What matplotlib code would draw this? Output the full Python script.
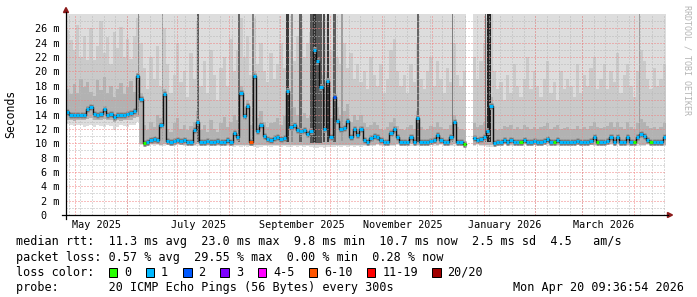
import datetime as dt
import numpy as np
import matplotlib
matplotlib.use("Agg")
import matplotlib.pyplot as plt
from matplotlib.lines import Line2D
from matplotlib.patches import Polygon, Rectangle

W, H = 697, 297
plt.rcParams['font.family'] = ['DejaVu Sans Mono']
nan = np.nan

# time axis: last 360 days, one value every 2 days
end_time = dt.datetime(2026, 4, 20, 9, 36, 54)
span_days = 360
bin_days = 2

# median rtt (ms), one value per 2-day bin
median_ms = [
    14.3, 14.0, 13.9, 13.9, 14.0, 14.0, 14.8, 15.1, 14.1, 14.0, 14.1, 14.8, 14.0, 14.1, 13.6, 14.0, 13.9, 14.0, 14.1, 14.2,
    14.5, 19.4, 16.2, 10.0, 10.1, 10.5, 10.6, 10.4, 12.5, 16.8, 10.3, 10.2, 10.3, 10.4, 10.3, 10.4, 10.2, 10.2, 11.8, 12.9,
    10.2, 10.2, 10.3, 10.2, 10.2, 10.3, 10.2, 10.2, 10.4, 10.2, 11.4, 10.8, 17.0, 13.8, 15.2, 10.2, 19.4, 11.7, 12.6, 11.0,
    10.6, 10.4, 10.7, 10.8, 10.6, 10.7, 17.3, 12.3, 12.5, 11.8, 11.7, 11.9, 11.3, 11.7, 23.0, 21.4, 17.9, 12.0, 18.7, 10.9,
    16.5, 13.1, 12.0, 12.1, 13.1, 10.8, 12.0, 11.2, 12.0, 10.4, 10.2, 10.7, 11.0, 10.9, 10.4, 10.2, 10.2, 11.4, 12.0, 10.8,
    10.2, 10.1, 10.2, 10.9, 10.2, 13.5, 10.2, 10.2, 10.2, 10.3, 10.4, 11.2, 10.4, 10.2, 10.2, 10.9, 13.0, 10.2, 10.2, 9.9,
    nan, nan, 10.7, 10.5, 10.6, 10.9, 11.7, 15.2, 10.0, 10.1, 10.2, 10.4, 10.2, 10.5, 10.2, 10.2, 10.2, 10.5, 10.2, 10.2,
    10.3, 10.2, 10.2, 10.3, 10.6, 10.2, 10.2, 10.4, 10.2, 10.2, 10.2, 10.2, 10.2, 10.3, 10.2, 10.2, 10.2, 10.3, 10.8, 10.2,
    10.2, 10.2, 10.3, 10.9, 10.2, 10.9, 10.2, 10.2, 10.9, 10.2, 10.2, 10.9, 11.3, 11.0, 10.4, 10.2, 10.2, 10.2, 10.2, 10.9,
]

# smoke: lower edge of all pings
smoke_low = [
    12.7, 12.5, 12.4, 12.6, 12.5, 12.3, 12.4, 12.6, 12.2, 12.5, 12.4, 12.3, 12.5, 12.4, 11.8, 12.3, 12.5, 12.4, 12.2, 12.5,
    12.6, 12.9, 9.8, 9.7, 9.6, 9.7, 9.6, 9.7, 9.6, 9.6, 9.7, 9.7, 9.6, 9.7, 9.7, 9.6, 9.7, 9.7, 9.6, 9.6,
    9.7, 9.7, 9.6, 9.7, 9.7, 9.6, 9.7, 9.7, 9.6, 9.6, 9.5, 9.6, 9.5, 9.6, 9.5, 9.6, 9.5, 9.4, 9.5, 9.6,
    9.6, 9.5, 9.6, 9.6, 9.5, 9.6, 9.5, 9.5, 9.6, 9.5, 9.6, 9.5, 9.6, 9.5, 9.4, 9.4, 9.5, 9.4, 9.5, 9.5,
    9.5, 9.6, 9.5, 9.6, 9.5, 9.6, 9.5, 9.6, 9.5, 9.6, 9.7, 9.6, 9.6, 9.7, 9.6, 9.7, 9.6, 9.6, 9.6, 9.7,
    9.7, 9.6, 9.7, 9.6, 9.7, 9.6, 9.7, 9.7, 9.6, 9.7, 9.6, 9.6, 9.7, 9.7, 9.6, 9.6, 9.6, 9.7, 9.6, 9.5,
    nan, nan, 9.6, 9.7, 9.6, 9.6, 9.5, 9.5, 9.7, 9.7, 9.6, 9.7, 9.7, 9.6, 9.7, 9.7, 9.6, 9.7, 9.7, 9.6,
    9.7, 9.7, 9.6, 9.7, 9.6, 9.7, 9.7, 9.6, 9.7, 9.7, 9.7, 9.6, 9.7, 9.7, 9.6, 9.7, 9.7, 9.7, 9.6, 9.7,
    9.7, 9.6, 9.7, 9.7, 9.6, 9.7, 9.6, 9.7, 9.6, 9.7, 9.7, 9.6, 9.6, 9.6, 9.7, 9.7, 9.6, 9.7, 9.7, 9.6,
]

# smoke: lower edge of the inner pings
smoke_low_inner = [
    13.3, 13.2, 13.1, 13.3, 13.2, 13.2, 13.4, 13.5, 13.2, 13.2, 13.3, 13.4, 13.2, 13.3, 12.9, 13.2, 13.1, 13.2, 13.3, 13.3,
    13.5, 13.6, 9.9, 9.9, 9.8, 9.9, 9.9, 9.9, 9.8, 9.9, 9.9, 9.9, 9.8, 9.9, 9.9, 9.8, 9.9, 9.9, 9.8, 9.9,
    9.9, 9.9, 9.8, 9.9, 9.9, 9.8, 9.9, 9.9, 9.8, 9.8, 9.8, 9.8, 9.7, 9.8, 9.8, 9.8, 9.7, 9.7, 9.8, 9.8,
    9.8, 9.8, 9.8, 9.8, 9.8, 9.8, 9.7, 9.8, 9.8, 9.8, 9.8, 9.8, 9.8, 9.7, 9.7, 9.7, 9.8, 9.7, 9.7, 9.8,
    9.8, 9.8, 9.8, 9.8, 9.8, 9.8, 9.8, 9.8, 9.8, 9.8, 9.9, 9.8, 9.8, 9.9, 9.8, 9.9, 9.9, 9.8, 9.8, 9.9,
    9.9, 9.8, 9.9, 9.9, 9.9, 9.8, 9.9, 9.9, 9.8, 9.9, 9.9, 9.8, 9.9, 9.9, 9.9, 9.8, 9.9, 9.9, 9.8, 9.7,
    nan, nan, 9.8, 9.9, 9.8, 9.8, 9.8, 9.8, 9.8, 9.9, 9.9, 9.9, 9.9, 9.8, 9.9, 9.9, 9.9, 9.9, 9.9, 9.8,
    9.9, 9.9, 9.8, 9.9, 9.9, 9.9, 9.9, 9.8, 9.9, 9.9, 9.9, 9.8, 9.9, 9.9, 9.8, 9.9, 9.9, 9.9, 9.8, 9.9,
    9.9, 9.8, 9.9, 9.9, 9.8, 9.9, 9.8, 9.9, 9.8, 9.9, 9.9, 9.9, 9.8, 9.8, 9.9, 9.9, 9.8, 9.9, 9.9, 9.8,
]

# smoke: upper edge of the middle pings
smoke_high_mid = [
    17.5, 16.8, 18.2, 17.0, 19.0, 17.8, 18.5, 17.2, 16.6, 18.8, 17.4, 19.2, 17.0, 18.0, 16.5, 17.6, 18.4, 16.9, 17.8, 18.6,
    17.2, 19.8, 17.0, 12.5, 11.8, 13.0, 12.2, 14.0, 13.5, 17.5, 12.0, 11.6, 12.8, 13.5, 12.0, 12.6, 11.8, 12.4, 13.0, 14.5,
    11.8, 12.5, 11.6, 13.2, 12.0, 11.5, 12.8, 13.6, 12.2, 13.0, 14.0, 13.2, 18.0, 15.0, 16.0, 12.5, 20.0, 13.5, 14.5, 13.0,
    12.2, 12.8, 13.0, 13.5, 12.6, 13.8, 18.5, 14.5, 15.0, 14.0, 13.8, 14.2, 13.5, 14.0, 24.0, 22.0, 19.5, 15.5, 20.0, 13.5,
    17.5, 15.0, 14.0, 14.5, 15.5, 13.0, 14.0, 13.2, 14.0, 12.8, 12.2, 12.6, 13.0, 12.5, 12.0, 11.8, 12.2, 13.0, 13.5, 12.4,
    12.0, 11.8, 12.2, 12.6, 12.0, 14.5, 12.2, 11.9, 12.0, 12.4, 12.3, 13.0, 12.2, 12.0, 12.0, 12.6, 14.0, 12.2, 12.0, 11.8,
    nan, nan, 12.8, 12.2, 12.6, 13.0, 14.0, 16.5, 12.0, 11.8, 12.0, 12.4, 12.2, 12.6, 12.0, 12.2, 12.0, 12.6, 12.2, 12.0,
    12.3, 12.0, 12.2, 12.4, 12.8, 12.0, 12.2, 12.5, 12.0, 12.1, 12.2, 12.0, 12.0, 12.4, 12.0, 12.2, 12.0, 12.4, 13.0, 12.2,
    12.1, 12.2, 12.4, 13.0, 12.2, 13.0, 12.2, 12.0, 13.0, 12.2, 12.0, 12.8, 13.4, 13.0, 12.4, 12.1, 12.2, 12.0, 12.2, 12.8,
]

# smoke: upper edge of the outer pings (the max is off the scale)
smoke_high_outer = [
    25.8, 24.4, 23.0, 26.5, 22.0, 25.0, 21.6, 26.0, 21.6, 23.5, 27.0, 22.5, 24.8, 21.0, 25.5, 23.2, 26.2, 22.0, 24.5, 21.8,
    25.0, 27.5, 24.0, 20.5, 17.5, 22.0, 19.0, 23.5, 18.0, 26.0, 21.0, 17.0, 19.5, 24.0, 18.5, 20.0, 16.5, 22.5, 19.0, 27.0,
    18.0, 21.5, 17.0, 23.0, 19.5, 16.0, 20.5, 22.0, 18.0, 24.5, 20.0, 23.0, 27.5, 22.0, 25.0, 19.5, 27.5, 21.0, 24.0, 20.0,
    18.5, 22.5, 19.0, 21.0, 24.0, 20.5, 27.5, 23.0, 21.5, 25.0, 26.0, 22.0, 24.0, 25.5, 28.0, 28.0, 27.0, 24.0, 27.5, 23.0,
    26.5, 22.0, 21.0, 24.0, 20.5, 22.5, 19.0, 21.0, 18.5, 20.0, 17.5, 22.0, 19.5, 18.0, 21.0, 17.0, 19.0, 23.0, 24.5, 20.0,
    18.0, 19.5, 17.0, 21.0, 18.5, 24.0, 19.0, 17.5, 20.0, 22.0, 18.0, 21.5, 19.0, 17.0, 20.5, 18.5, 24.0, 19.5, 18.0, 20.0,
    nan, nan, 22.0, 19.0, 21.5, 24.0, 27.5, 28.0, 20.0, 17.5, 18.5, 16.0, 19.5, 17.0, 21.0, 18.0, 16.5, 19.0, 22.0, 17.5,
    20.0, 18.0, 16.5, 19.0, 21.5, 17.0, 18.5, 16.0, 20.0, 17.5, 19.0, 18.0, 16.5, 21.0, 17.0, 19.5, 18.0, 20.5, 22.0, 17.5,
    19.0, 21.0, 17.5, 20.0, 18.5, 22.5, 17.0, 19.5, 21.0, 18.0, 16.5, 20.0, 23.0, 21.5, 19.0, 17.5, 20.5, 18.0, 19.0, 21.0,
]

# dark smoke columns where single samples spread over the whole range
col_day = [43.5, 57.9, 78.9, 103.8, 112.2, 132.6, 135.6, 140.4, 150.0, 149.1, 154.8, 157.2, 161.1, 165.6,
           211.2, 231.9, 251.7, 253.8, 343.8]
col_width = [0.6, 0.6, 1.2, 1.2, 0.8, 1.8, 0.8, 1.8, 7.0, 1.8, 1.2, 1.2, 1.8, 1.2,
             0.8, 0.8, 0.8, 2.0, 0.6]
col_low = [14.0, 10.3, 10.2, 10.2, 10.2, 10.2, 10.2, 10.2, 10.0, 10.2, 10.2, 10.2, 10.2, 10.3,
           10.2, 10.2, 10.2, 10.2, 10.3]
col_top = [28.0] * 19
col_gray = ['#8c8c8c', '#9a9a9a', '#5e5e5e', '#686868', '#7e7e7e', '#3c3c3c', '#8e8e8e', '#626262',
            '#585858', '#303030', '#4c4c4c', '#383838', '#5e5e5e', '#9e9e9e',
            '#666666', '#7e7e7e', '#707070', '#222222', '#9e9e9e']

# packet loss colour classes
loss_labels = ['0', '1', '2', '3', '4-5', '6-10', '11-19', '20/20']
loss_hex = ['#26ff00', '#00b8ff', '#0059ff', '#7e00ff', '#ff00ff', '#ff5500', '#ff0000', '#a10000']
bins_loss_0 = [23, 119, 136, 146, 159, 170, 175]
bins_loss_2 = [80]
bins_loss_6_10 = [55]

y_ticks = list(range(0, 28, 2))

legend_rows = [
    "median rtt:  11.3 ms avg  23.0 ms max  9.8 ms min  10.7 ms now  2.5 ms sd  4.5   am/s",
    "packet loss: 0.57 % avg  29.55 % max  0.00 % min  0.28 % now",
]


def fx(x):
    return x / W


def fy(y):
    return 1 - y / H


start_time = end_time - dt.timedelta(days=span_days)


def day_of(t):
    return (t - start_time).total_seconds() / 86400


days = np.arange(0, span_days, bin_days)
Y_TOP = 28
FS = 8.5

fig = plt.figure(figsize=(W / 100, H / 100), dpi=100)
ax = fig.add_axes([fx(66), 1 - 215 / H, 600 / W, 201 / H])
ax.set_xlim(0, span_days)
ax.set_ylim(0, Y_TOP)
for s in ax.spines.values():
    s.set_visible(False)

lo = np.array(smoke_low)
lo_in = np.array(smoke_low_inner)
hi_mid = np.array(smoke_high_mid)
hi_out = np.array(smoke_high_outer)
med = np.array(median_ms)

bar_kw = dict(width=bin_days, align='edge', linewidth=0, antialiased=False)
ax.bar(days, Y_TOP - lo, bottom=lo, color='#dddddd', zorder=1.0, **bar_kw)
ax.bar(days, hi_out - lo_in, bottom=lo_in, color='#cacaca', zorder=1.1, **bar_kw)
ax.bar(days, hi_mid - lo_in, bottom=lo_in, color='#b2b2b2', zorder=1.2, **bar_kw)
ax.bar(col_day, np.subtract(col_top, col_low), bottom=col_low, width=col_width,
       color=col_gray, linewidth=0, zorder=1.3)

# darker smoke right around the median (horizontal only)
ax.hlines(med, days, days + bin_days, colors='#9c9c9c', lw=7 * 0.72, zorder=1.4)
ax.hlines(med, days, days + bin_days, colors='#6c6c6c', lw=4.5 * 0.72, zorder=1.5)

# grid (drawn over the smoke like rrdtool does)
dots = (0, (1, 2))
month_days = [day_of(dt.datetime(2025 + (m - 1) // 12, (m - 1) % 12 + 1, 1)) for m in range(5, 17)]
first_sunday = dt.datetime(2025, 4, 27)
sundays = [day_of(first_sunday + dt.timedelta(days=7 * k)) for k in range(52)]
sundays = [d for d in sundays if 0 < d < span_days]
ax.hlines(range(1, Y_TOP, 2), 0, span_days, colors='#b8b8b8', lw=0.72, linestyles=dots, zorder=2.5)
ax.vlines(sundays, 0, Y_TOP, colors='#b8b8b8', lw=0.72, linestyles=dots, zorder=2.5)
ax.hlines(range(2, Y_TOP, 2), 0, span_days, colors='#f08080', lw=0.72, linestyles=dots, zorder=2.6)
ax.vlines(month_days, 0, Y_TOP, colors='#f08080', lw=0.72, linestyles=dots, zorder=2.6)

# median line and loss coloured segments
seg_colors = [loss_hex[1]] * len(med)
for b in bins_loss_0:
    seg_colors[b] = loss_hex[0]
for b in bins_loss_2:
    seg_colors[b] = loss_hex[2]
for b in bins_loss_6_10:
    seg_colors[b] = loss_hex[5]
xe = np.append(days, span_days)
ye = np.append(med, med[-1])
ax.plot(xe, ye, drawstyle='steps-post', color='#111111', lw=1.4 * 0.72, zorder=3)
ax.hlines(med, days, days + bin_days, colors=seg_colors, lw=3 * 0.72, zorder=4)

# axis labels
ax.set_yticks(y_ticks)
ax.set_yticklabels([f"{v} m" if v else "0  " for v in y_ticks], fontsize=7.3)
label_months = [dt.datetime(2025, 5, 1), dt.datetime(2025, 7, 1), dt.datetime(2025, 9, 1),
                dt.datetime(2025, 11, 1), dt.datetime(2026, 1, 1), dt.datetime(2026, 3, 1)]
ax.set_xticks([day_of(t) + 12.7 for t in label_months])
ax.set_xticklabels([t.strftime("%B %Y") for t in label_months], fontsize=7.3)
ax.tick_params(axis='y', length=0, pad=4.8)
ax.tick_params(axis='x', length=0, pad=3.4)

# axes with arrows
fig.add_artist(Line2D([fx(62), fx(668)], [fy(215), fy(215)], color='black', lw=0.9))
fig.add_artist(Line2D([fx(66), fx(66)], [fy(219), fy(12)], color='black', lw=0.9))
fig.add_artist(Polygon([(fx(63.5), fy(12.5)), (fx(68.5), fy(12.5)), (fx(66), fy(7.5))],
                       closed=True, color='#8b1a1a', transform=fig.transFigure))
fig.add_artist(Polygon([(fx(667.5), fy(212.5)), (fx(667.5), fy(217.5)), (fx(672.5), fy(215))],
                       closed=True, color='#8b1a1a', transform=fig.transFigure))

fig.text(fx(11), fy(114), "Seconds", rotation=90, ha='center', va='center', fontsize=8.3)
fig.text(fx(687), fy(60), "RRDTOOL / TOBI OETIKER", rotation=270, ha='center', va='center',
         fontsize=6, color='#b4b4b4')

# legend
row_y = [241, 257, 272, 288]
for row, txt in zip(row_y, legend_rows):
    fig.text(fx(16), fy(row), txt, ha='left', va='center', fontsize=FS)
fig.text(fx(16), fy(row_y[2]), "loss color:", ha='left', va='center', fontsize=FS)
x = 108.5
for lab, col in zip(loss_labels, loss_hex):
    fig.add_artist(Rectangle((fx(x), fy(row_y[2] + 4.5)), 8.4 / W, 9 / H, facecolor=col,
                             edgecolor='black', lw=0.72, transform=fig.transFigure))
    fig.text(fx(x + 15.3), fy(row_y[2]), lab, ha='left', va='center', fontsize=FS)
    x += 37.3 + 6.95 * (len(lab) - 1)
fig.text(fx(16), fy(row_y[3]), "probe:       20 ICMP Echo Pings (56 Bytes) every 300s",
         ha='left', va='center', fontsize=FS)
fig.text(fx(513), fy(row_y[3]), end_time.strftime("%a %b %d %H:%M:%S %Y"), ha='left', va='center', fontsize=FS)

fig.savefig("out.png", dpi=100)
